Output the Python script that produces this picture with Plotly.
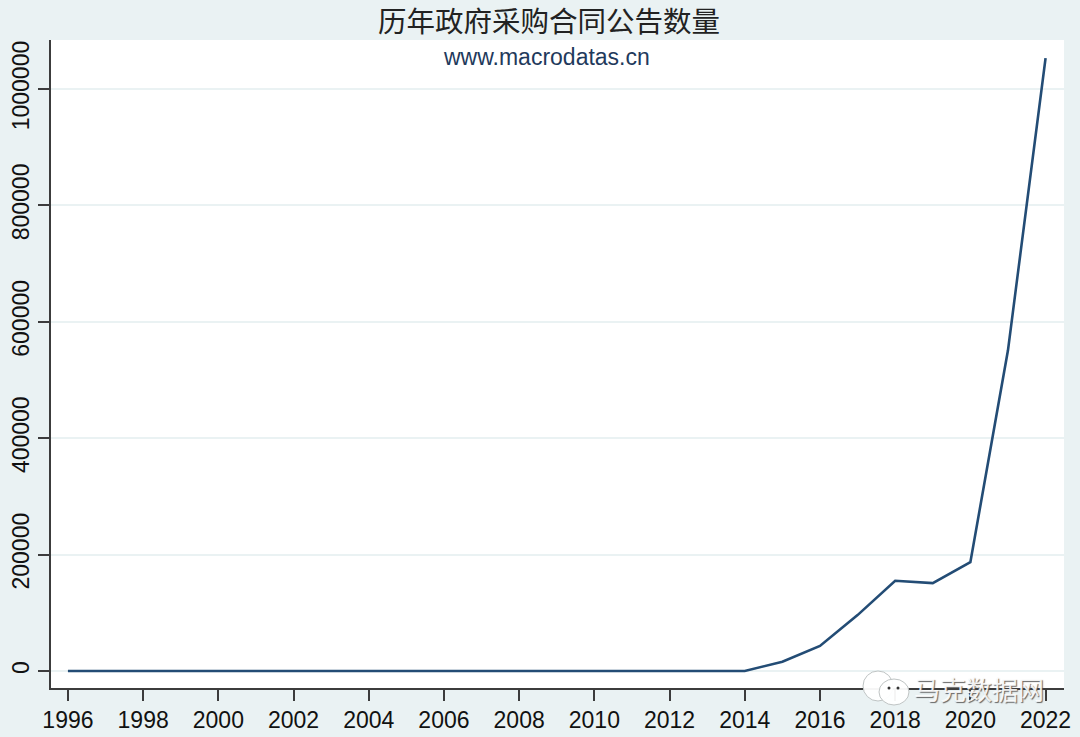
import plotly.graph_objects as go

anos = list(range(1996, 2023))
contratos = [0] * 19 + [16000, 43000, 96000, 155000, 151000, 187000, 551000, 1053000]
ticks_x = list(range(1996, 2023, 2))
ticks_y = [0, 200000, 400000, 600000, 800000, 1000000]
titulo = "历年政府采购合同公告数量"
site = "www.macrodatas.cn"
marca = "马克数据网"

fundo = "#eaf2f3"
cor_linha = "#234c75"
cor_eixo = "#3c3c3c"

fig = go.Figure()
fig.add_trace(go.Scatter(x=anos, y=contratos, mode="lines",
                         line=dict(color=cor_linha, width=2.6), showlegend=False))

fig.update_layout(
    width=1080, height=737, autosize=False,
    margin=dict(l=51, r=16, t=40, b=49, pad=0),
    paper_bgcolor=fundo, plot_bgcolor="white",
    font=dict(family="Liberation Sans, Noto Sans CJK SC", color="#111111", size=22),
    title=dict(text=titulo, x=549 / 1080, xanchor="center", y=0.97, yanchor="middle",
               font=dict(family="Noto Sans CJK SC", size=28.5, color="#222222")),
)
fig.update_xaxes(range=[1995.55, 2022.49], tickvals=ticks_x, ticks="outside", ticklen=11,
                 tickwidth=1.5, tickcolor=cor_eixo, showline=True, linecolor=cor_eixo,
                 linewidth=1.5, showgrid=False, zeroline=False, tickfont=dict(size=23),
                 automargin=False)
fig.update_yaxes(range=[-29210, 1084192], tickvals=ticks_y, tickformat="d", ticks="outside",
                 ticklen=11, tickwidth=1.5, tickcolor=cor_eixo, showline=True, linecolor=cor_eixo,
                 linewidth=1.5, showgrid=True, gridcolor=fundo, gridwidth=2, zeroline=False,
                 tickangle=-90, tickfont=dict(size=23), automargin=False)

# site name inside the plot area
fig.add_annotation(text=site, xref="paper", yref="paper", x=0.4895, y=0.9745,
                   xanchor="center", yanchor="middle", showarrow=False,
                   font=dict(size=23, color="#1f3a5c"))

# watermark: two chat bubbles and the account name
def px_x(v):
    return (v - 51) / (1080 - 51 - 16)

def px_y(v):
    return (737 - 49 - v) / (737 - 40 - 49)

for cx, cy, rx, ry in [(878, 686, 15, 15), (894, 692, 15, 13)]:
    fig.add_shape(type="circle", xref="paper", yref="paper",
                  x0=px_x(cx - rx), x1=px_x(cx + rx), y0=px_y(cy + ry), y1=px_y(cy - ry),
                  fillcolor="rgba(255,255,255,0.95)", line=dict(color="#bfc4c4", width=1))
for cx, cy in [(889, 688), (898, 688)]:
    fig.add_shape(type="circle", xref="paper", yref="paper",
                  x0=px_x(cx - 1.5), x1=px_x(cx + 1.5), y0=px_y(cy + 1.5), y1=px_y(cy - 1.5),
                  fillcolor="#333333", line=dict(width=0))
fig.add_annotation(text=marca, xref="paper", yref="paper", x=px_x(979), y=px_y(689),
                   xanchor="center", yanchor="middle", showarrow=False,
                   font=dict(family="Noto Sans CJK SC", size=26, color="rgba(255,255,255,0.9)",
                             shadow="1px 1px 1px #555555"))

fig.write_html("out.html", config={"displayModeBar": False},
               post_script="document.body.style.margin='0';")
